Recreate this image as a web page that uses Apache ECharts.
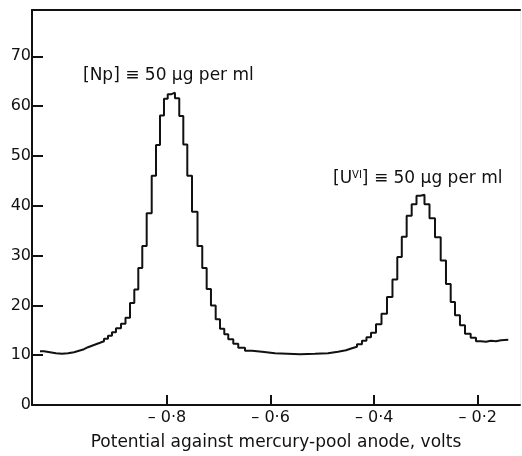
<!DOCTYPE html>
<html>
<head>
<meta charset="utf-8">
<script src="https://cdn.jsdelivr.net/npm/echarts@6/dist/echarts.min.js"></script>
<style>html,body{margin:0;padding:0;background:#fff}#c{width:522px;height:456px}</style>
</head>
<body>
<div id="c"></div>
<script>
// Step boundaries (volts) and the level of each step (current, arbitrary units)
const potentials = [
  -1.0452, -1.0375, -1.0259, -1.0143, -1.0027, -0.9911, -0.9795, -0.9699, -0.9602, -0.9525,
  -0.9448, -0.9371, -0.9293, -0.9216, -0.9139, -0.9062, -0.8985, -0.8888, -0.8801, -0.8714,
  -0.8631, -0.8554, -0.8477, -0.8392, -0.8295, -0.8212, -0.8135, -0.8058, -0.7986, -0.7913,
  -0.7846, -0.7763, -0.7685, -0.7608, -0.7517, -0.7411, -0.7319, -0.7234, -0.7151, -0.7060,
  -0.6977, -0.6894, -0.6817, -0.6720, -0.6624, -0.6494, -0.6359, -0.6166, -0.5915, -0.5432,
  -0.5143, -0.4892, -0.4699, -0.4544, -0.4429, -0.4332, -0.4236, -0.4149, -0.4062, -0.3965,
  -0.3859, -0.3753, -0.3647, -0.3554, -0.3467, -0.3373, -0.3276, -0.3183, -0.3106, -0.3029,
  -0.2932, -0.2826, -0.2716, -0.2614, -0.2523, -0.2440, -0.2344, -0.2247, -0.2137, -0.2035,
  -0.1938, -0.1842, -0.1745, -0.1649, -0.1552, -0.1411
];
const currents = [
  10.8, 10.6, 10.4, 10.3, 10.4, 10.6, 10.9, 11.2, 11.6, 11.9,
  12.2, 12.5, 12.8, 13.3, 13.9, 14.6, 15.4, 16.3, 17.5, 20.5,
  23.2, 27.5, 31.9, 38.5, 46.0, 52.2, 58.1, 61.5, 62.4, 62.7,
  61.6, 58.0, 52.3, 46.0, 38.8, 31.9, 27.5, 23.3, 20.0, 17.2,
  15.3, 14.2, 13.2, 12.3, 11.5, 10.9, 10.7, 10.4, 10.2, 10.3,
  10.4, 10.7, 11.0, 11.4, 11.7, 12.2, 12.9, 13.6, 14.5, 16.2,
  18.3, 21.7, 25.2, 29.7, 33.8, 38.0, 40.3, 42.0, 42.2, 40.3,
  37.5, 33.7, 29.0, 24.3, 20.7, 18.0, 16.0, 14.3, 13.5, 12.8,
  12.7, 12.9, 12.8, 13.0, 13.1, 13.1
];
const xTickValues = [-0.8, -0.6, -0.4, -0.2];
const xTickLabels = ['– 0·8', '– 0·6', '– 0·4', '– 0·2'];
const yTickValues = [0, 10, 20, 30, 40, 50, 60, 70];
const yTickLabels = ['0', '10', '20', '30', '40', '50', '60', '70'];
const xTitle = 'Potential against mercury-pool anode, volts';

const font = '"DejaVu Sans"';
const chart = echarts.init(document.getElementById('c'), null, {renderer: 'canvas'});
const pts = potentials.map((p, i) => [p, currents[i]]);

chart.setOption({
  animation: false,
  backgroundColor: '#fff',
  grid: {left: 32, top: 10, right: 2, bottom: 49.3, containLabel: false},
  xAxis: [{
    type: 'value', min: -1.0606, max: -0.1185, position: 'bottom',
    axisLine: {show: true, onZero: false, lineStyle: {color: '#111', width: 2}},
    axisTick: {show: true, inside: true, length: 10, customValues: xTickValues, lineStyle: {color: '#111', width: 2}},
    axisLabel: {customValues: xTickValues, margin: 5, color: '#111', fontFamily: 'DejaVu Sans', fontSize: 16,
      formatter: v => xTickLabels[xTickValues.findIndex(t => Math.abs(t - v) < 1e-6)] || ''},
    splitLine: {show: false},
    name: xTitle, nameLocation: 'middle', nameGap: 29,
    nameTextStyle: {color: '#111', fontFamily: 'DejaVu Sans', fontSize: 17}
  }, {
    type: 'value', min: -1.0606, max: -0.1185, position: 'top',
    axisLine: {show: true, onZero: false, lineStyle: {color: '#111', width: 2}},
    axisTick: {show: false}, axisLabel: {show: false}, splitLine: {show: false}
  }],
  yAxis: [{
    type: 'value', min: 0, max: 79.3, position: 'left',
    axisLine: {show: true, onZero: false, lineStyle: {color: '#111', width: 2}},
    axisTick: {show: true, inside: true, length: 11, customValues: yTickValues, lineStyle: {color: '#111', width: 2}},
    axisLabel: {customValues: yTickValues, margin: 1, color: '#111', fontFamily: 'DejaVu Sans', fontSize: 16,
      formatter: v => yTickLabels[yTickValues.indexOf(Math.round(v))] || ''},
    splitLine: {show: false}
  }, {
    type: 'value', min: 0, max: 79.3, position: 'right',
    axisLine: {show: true, onZero: false, lineStyle: {color: '#eeeeee', width: 1}},
    axisTick: {show: false}, axisLabel: {show: false}, splitLine: {show: false}
  }],
  series: [{
    type: 'line', step: 'end', data: pts, symbol: 'none',
    lineStyle: {color: '#111', width: 2}
  }],
  graphic: [
    {type: 'text', left: 83, top: 67, style: {text: '[Np] ≡ 50 μg per ml', fill: '#111', font: '17px ' + font}},
    {type: 'text', left: 333, top: 170, style: {
      text: '[U{sup|VI}] ≡ 50 μg per ml', fill: '#111', font: '17px ' + font,
      rich: {sup: {fontSize: 10, fontFamily: 'DejaVu Sans', verticalAlign: 'top', padding: [0, 0, 8, 0], fill: '#111'}}
    }}
  ]
});
</script>
</body>
</html>
